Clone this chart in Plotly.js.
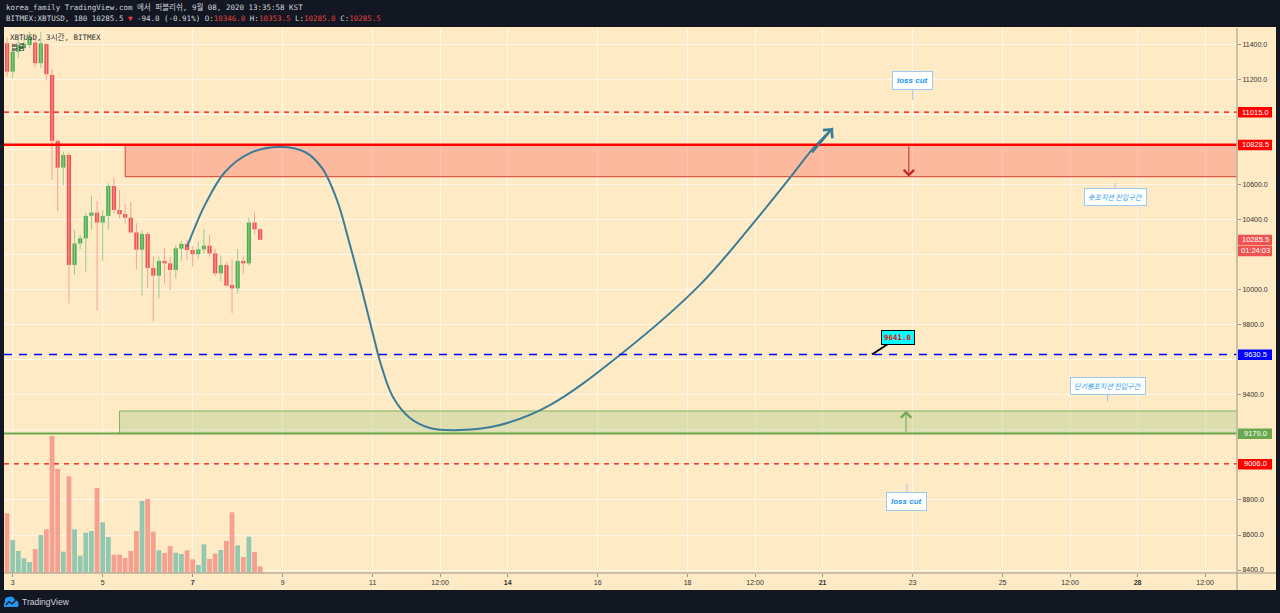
<!DOCTYPE html>
<html><head><meta charset="utf-8">
<script src="https://cdn.plot.ly/plotly-3.0.1.min.js"></script>
<style>
html,body{margin:0;padding:0;background:#131722;width:1280px;height:613px;overflow:hidden;}
#bg{position:absolute;left:4px;top:27px;width:1272px;height:563px;background:#FFEAC6;}
#chart{position:absolute;left:0;top:0;width:1280px;height:613px;}
</style></head><body>
<div id="bg"></div><div id="chart"></div>
<script>
// ---- data (3h candles, BITMEX:XBTUSD) ----
const times = ['2020-09-02 21:00',
'2020-09-03 00:00','2020-09-03 03:00','2020-09-03 06:00','2020-09-03 09:00','2020-09-03 12:00','2020-09-03 15:00','2020-09-03 18:00','2020-09-03 21:00',
'2020-09-04 00:00','2020-09-04 03:00','2020-09-04 06:00','2020-09-04 09:00','2020-09-04 12:00','2020-09-04 15:00','2020-09-04 18:00','2020-09-04 21:00',
'2020-09-05 00:00','2020-09-05 03:00','2020-09-05 06:00','2020-09-05 09:00','2020-09-05 12:00','2020-09-05 15:00','2020-09-05 18:00','2020-09-05 21:00',
'2020-09-06 00:00','2020-09-06 03:00','2020-09-06 06:00','2020-09-06 09:00','2020-09-06 12:00','2020-09-06 15:00','2020-09-06 18:00','2020-09-06 21:00',
'2020-09-07 00:00','2020-09-07 03:00','2020-09-07 06:00','2020-09-07 09:00','2020-09-07 12:00','2020-09-07 15:00','2020-09-07 18:00','2020-09-07 21:00',
'2020-09-08 00:00','2020-09-08 03:00','2020-09-08 06:00','2020-09-08 09:00','2020-09-08 12:00'];
const openP  = [11408,11246,11360,11380,11398,11412,11294,11404,11227,10850,10698,10770,10142,10265,10294,10423,10441,10384,10422,10593,10456,10433,10412,10328,10229,10319,10125,10081,10165,10151,10113,10235,10262,10227,10203,10231,10252,10208,10094,10142,10028,10008,10165,10151,10384,10346];
const highP  = [11440,11398,11427,11446,11474,11446,11474,11408,11259,10856,10789,10783,10342,10313,10441,10538,10507,10456,10608,10641,10570,10490,10500,10380,10338,10330,10189,10189,10237,10189,10256,10279,10285,10250,10273,10347,10313,10233,10195,10161,10174,10233,10189,10414,10441,10353.5];
const lowP   = [11217,11208,11322,11368,11379,11271,11265,11195,10627,10450,10599,9923,10085,10233,10104,10342,9881,10166,10347,10437,10408,10380,10323,10117,9967,10008,9818,9951,10037,9999,10066,10166,10170,10132,10174,10205,10189,10079,10047,10018,9866,9980,10090,10138,10319,10285];
const closeP = [11246,11360,11398,11404,11446,11294,11408,11231,10850,10698,10770,10142,10265,10294,10422,10441,10384,10422,10593,10456,10431,10412,10328,10229,10319,10125,10081,10165,10151,10113,10237,10262,10227,10203,10231,10252,10208,10094,10142,10024,10008,10165,10151,10384,10346,10285.5];
const volumeM = [17.9,9.9,6.6,4.4,3.3,7.2,11.4,13.1,41.1,31.3,6.4,29.0,13.1,5.2,12.1,12.6,25.5,15.2,10.8,5.5,5.5,4.5,6.6,12.6,21.6,22.2,12.4,6.8,6.0,8.1,6.1,5.7,6.8,4.1,2.4,8.6,4.2,5.8,6.9,9.6,18.2,8.3,4.8,10.9,6.3,2.0];

const priceTicks = [8400,8600,8800,9000,9200,9400,9600,9800,10000,10200,10400,10600,10800,11000,11200,11400];
// labels hidden behind the coloured price boxes are left blank
const priceTickText = ['8400.0','8600.0','8800.0','','','9400.0','','9800.0','10000.0','','10400.0','10600.0','','','11200.0','11400.0'];
const dateTicks = ['2020-09-03','2020-09-05','2020-09-07','2020-09-09','2020-09-11','2020-09-12 12:00','2020-09-14','2020-09-16','2020-09-18','2020-09-19 12:00','2020-09-21','2020-09-23','2020-09-25','2020-09-26 12:00','2020-09-28','2020-09-29 12:00'];
const dateTickText = ['3','5','<b>7</b>','9','11','12:00','<b>14</b>','16','18','12:00','<b>21</b>','23','25','12:00','<b>28</b>','12:00'];

// drawings
const lossCutHigh = 11015, shortLevel = 10828.5, shortZoneLow = 10646, lastPrice = 10285.5;
const midLevel = 9630.5, longZoneHigh = 9308, longLevel = 9179, lossCutLow = 9006;
const curveTimes = ['2020-09-06 21:00','2020-09-07 06:33','2020-09-07 17:14','2020-09-08 06:33','2020-09-08 22:34','2020-09-09 11:54','2020-09-09 20:57','2020-09-10 04:58','2020-09-10 11:54','2020-09-10 18:17','2020-09-10 23:37','2020-09-11 04:58','2020-09-11 10:49','2020-09-11 19:54','2020-09-12 06:33','2020-09-12 22:34','2020-09-13 19:54','2020-09-14 22:34','2020-09-16 11:54','2020-09-18 06:33','2020-09-19 14:34','2020-09-20 06:33','2020-09-20 18:17','2020-09-21 05:30'];
const curvePrices = [10245,10485,10673,10781,10816,10787,10696,10513,10256,9999,9771,9554,9388,9268,9211,9199,9228,9342,9628,10028,10427,10639,10799,10924];

// ---- build traces ----
const GREEN='#4CAF50', RED='#EF5350';
const isUp = i => closeP[i] >= openP[i];
const wickUp={x:[],y:[]}, wickDn={x:[],y:[]};
const bodyUp={x:[],base:[],y:[]}, bodyDn={x:[],base:[],y:[]};
const volColors=[];
times.forEach((t,i)=>{
  const w = isUp(i)?wickUp:wickDn, b = isUp(i)?bodyUp:bodyDn;
  w.x.push(t,t,null); w.y.push(lowP[i],highP[i],null);
  b.x.push(t); b.base.push(Math.min(openP[i],closeP[i])); b.y.push(Math.max(Math.abs(closeP[i]-openP[i]),4));
  volColors.push(isUp(i)?'#92C8AF':'#F6A190');
});
const H3 = 3*3600*1000;
const traces = [
 {type:'bar',x:times,y:volumeM,yaxis:'y2',width:H3*0.85,marker:{color:volColors,line:{width:0}},hoverinfo:'skip'},
 {type:'scatter',mode:'lines',x:wickUp.x,y:wickUp.y,line:{color:'#97CB91',width:1},hoverinfo:'skip'},
 {type:'scatter',mode:'lines',x:wickDn.x,y:wickDn.y,line:{color:'#F2A39A',width:1},hoverinfo:'skip'},
 {type:'bar',x:bodyUp.x,base:bodyUp.base,y:bodyUp.y,width:H3*0.75,marker:{color:GREEN,line:{width:0}},hoverinfo:'skip'},
 {type:'bar',x:bodyDn.x,base:bodyDn.base,y:bodyDn.y,width:H3*0.75,marker:{color:RED,line:{width:0}},hoverinfo:'skip'},
 {type:'scatter',mode:'lines',x:curveTimes,y:curvePrices,line:{color:'#3B7D97',width:2,shape:'spline',smoothing:1},hoverinfo:'skip'}
];

// ---- helpers ----
const PX = px => (px-4)/1233, PY = py => (573-py)/545;
const hline = (y,color,width,dash)=>({type:'line',xref:'paper',x0:0,x1:1,yref:'y',y0:y,y1:y,line:{color:color,width:width,dash:dash||'solid'},layer:'above'});
const shapes = [
 {type:'rect',xref:'x',x0:'2020-09-05 12:00',x1:'2020-10-10',yref:'y',y0:shortZoneLow,y1:shortLevel,fillcolor:'rgba(250,80,70,0.32)',line:{color:'rgba(215,50,35,0.9)',width:1},layer:'between'},
 {type:'rect',xref:'x',x0:'2020-09-05 09:00',x1:'2020-10-10',yref:'y',y0:longLevel,y1:longZoneHigh,fillcolor:'rgba(90,170,80,0.2)',line:{color:'#7DB35E',width:1},layer:'between'},
 hline(lossCutHigh,'#FF0000',1.2,'5px,5px'),
 hline(shortLevel,'#FF0000',2.5),
 hline(midLevel,'#0000FF',1.5,'8px,7px'),
 hline(longLevel,'#6AA84F',2),
 hline(lossCutLow,'#FF0000',1.2,'5px,5px'),
 // frame lines
 {type:'line',xref:'paper',yref:'paper',x0:1,x1:1,y0:1,y1:PY(590),line:{color:'#BDB197',width:1.5},layer:'above'},
 {type:'line',xref:'paper',yref:'paper',x0:0,x1:PX(1276),y0:0,y1:0,line:{color:'#BDB197',width:1.5},layer:'above'},
 // TradingView logo
 {type:'path',xref:'paper',yref:'paper',path:`M${PX(4)},${PY(607)} L${PX(18)},${PY(607)} Q${PX(20)},${PY(601)} ${PX(15)},${PY(600)} Q${PX(13)},${PY(595)} ${PX(9)},${PY(597)} Q${PX(4)},${PY(597)} ${PX(5)},${PY(602)} Q${PX(3)},${PY(604)} ${PX(4)},${PY(607)} Z`,fillcolor:'#2196F3',line:{width:0},layer:'above'},
 {type:'path',xref:'paper',yref:'paper',path:`M${PX(6)},${PY(605)} L${PX(9)},${PY(601.5)} L${PX(12)},${PY(604)} L${PX(16)},${PY(600)}`,line:{color:'#131722',width:1.2},layer:'above'}
];
// axis price-label boxes
const boxes = [
 [lossCutHigh,'11015.0','#FF0000',0],
 [shortLevel,'10828.5','#FF0000',0],
 [lastPrice,'10285.5','#EF5350',0],
 [lastPrice,'01:24:03','#EF5350',-11],
 [midLevel,'9630.5','#0000FF',0],
 [longLevel,'9179.0','#6AA84F',0],
 [lossCutLow,'9006.0','#FF0000',0]
];
const annotations = [];
boxes.forEach(b=>{
  shapes.push({type:'rect',xref:'paper',x0:PX(1238),x1:PX(1272),yref:'y',ysizemode:'pixel',yanchor:b[0],y0:b[3]-5.5,y1:b[3]+5,fillcolor:b[2],line:{width:0},layer:'above'});
  annotations.push({xref:'paper',x:PX(1255),xanchor:'center',yref:'y',y:b[0],yanchor:'middle',yshift:b[3],text:b[1],showarrow:false,font:{family:'Liberation Sans',size:7.5,color:'#FFFFFF'}});
});
const mono = 'DejaVu Sans Mono, Noto Sans CJK KR';
const red2 = '#E0413F';
annotations.push(
 {xref:'paper',yref:'paper',x:0,y:1,xanchor:'left',yanchor:'middle',yshift:20.7,showarrow:false,text:'korea_family TradingView.com 에서 퍼블리쉬, 9월 08, 2020 13:35:58 KST',font:{family:mono,size:7.5,color:'#D1D4DC'}},
 {xref:'paper',yref:'paper',x:0,y:1,xanchor:'left',yanchor:'middle',yshift:9.7,showarrow:false,
  text:`BITMEX:XBTUSD, 180 10285.5 <span style="color:#FF3B3B">▼</span> -94.0 (-0.91%) O:<span style="color:${red2}">10346.0</span> H:<span style="color:${red2}">10353.5</span> L:<span style="color:${red2}">10285.0</span> C:<span style="color:${red2}">10285.5</span>`,
  font:{family:mono,size:7.5,color:'#D1D4DC'}},
 {xref:'paper',yref:'paper',x:0,y:1,xanchor:'left',yanchor:'middle',xshift:4,yshift:-9,showarrow:false,text:'XBTUSD, 3시간, BITMEX',font:{family:mono,size:7.5,color:'#333333'}},
 {xref:'paper',yref:'paper',x:0,y:1,xanchor:'left',yanchor:'middle',xshift:5,yshift:-19.5,showarrow:false,text:'볼륨',font:{family:mono,size:7.5,color:'#333333'}},
 {xref:'paper',yref:'paper',x:PX(20),y:PY(602),xanchor:'left',yanchor:'middle',showarrow:false,text:'TradingView',font:{family:'Liberation Sans',size:8.5,color:'#D1D4DC'}},
 // callouts
 {x:'2020-09-23 00:00',y:11084,ax:0,ay:-19,text:'<b><i>loss cut</i></b>',showarrow:true,arrowhead:0,arrowcolor:'#9CCBF0',arrowwidth:1,bgcolor:'#FFFFFF',bordercolor:'#9CCBF0',borderwidth:1,borderpad:4,font:{family:'Liberation Sans',size:8,color:'#2196F3'}},
 {x:'2020-09-22 21:00',y:8891,ax:0,ay:17,text:'<b><i>loss cut</i></b>',showarrow:true,arrowhead:0,arrowcolor:'#9CCBF0',arrowwidth:1,bgcolor:'#FFFFFF',bordercolor:'#9CCBF0',borderwidth:1,borderpad:4,font:{family:'Liberation Sans',size:8,color:'#2196F3'}},
 {x:'2020-09-27 12:00',y:10610,ax:0,ay:14,text:'<i>숏포지션 진입구간</i>',showarrow:true,arrowhead:0,arrowcolor:'#9CCBF0',arrowwidth:1,bgcolor:'#FFFFFF',bordercolor:'#9CCBF0',borderwidth:1,borderpad:3,font:{family:'Noto Sans CJK KR',size:7,color:'#2196F3'}},
 {x:'2020-09-27 08:00',y:9359,ax:0,ay:-16,text:'<i>단기롱포지션 진입구간</i>',showarrow:true,arrowhead:0,arrowcolor:'#9CCBF0',arrowwidth:1,bgcolor:'#FFFFFF',bordercolor:'#9CCBF0',borderwidth:1,borderpad:3,font:{family:'Noto Sans CJK KR',size:7,color:'#2196F3'}},
 {x:'2020-09-22 02:18',y:midLevel,ax:26,ay:-17,text:'<b>9641.0</b>',showarrow:true,arrowhead:0,arrowcolor:'#000000',arrowwidth:2,bgcolor:'#00FFFF',bordercolor:'#000000',borderwidth:1,borderpad:2,font:{family:'DejaVu Sans Mono',size:7.5,color:'#FF0000'}},
 // arrows
 {x:'2020-09-21 05:30',y:10924,ax:-22,ay:26,text:'',showarrow:true,arrowhead:4,arrowsize:1.2,arrowwidth:2,arrowcolor:'#3B7D97',standoff:0},
 {x:'2020-09-22 22:00',y:shortZoneLow,ax:0,ay:-32,text:'',showarrow:true,arrowhead:4,arrowsize:2,arrowwidth:1,arrowcolor:'#C62828',standoff:0},
 {x:'2020-09-22 20:30',y:longZoneHigh,ax:0,ay:22.6,text:'',showarrow:true,arrowhead:4,arrowsize:2,arrowwidth:1,arrowcolor:'#6AA84F',standoff:0}
);

const axFont = {family:'Liberation Sans',size:7,color:'#333333'};
const layout = {
  width:1280,height:613,margin:{l:4,r:43,t:28,b:40},
  paper_bgcolor:'rgba(0,0,0,0)',plot_bgcolor:'rgba(0,0,0,0)',
  showlegend:false,barmode:'overlay',
  xaxis:{type:'date',range:['2020-09-02 19:22','2020-09-30 05:02'],tickvals:dateTicks,ticktext:dateTickText,
    showgrid:true,gridcolor:'#FFF7EA',gridwidth:1,ticks:'outside',ticklen:3,tickcolor:'#9E9784',tickfont:axFont,zeroline:false,showline:false,fixedrange:true},
  yaxis:{side:'right',range:[8383,11495],tickvals:priceTicks,ticktext:priceTickText,showgrid:true,gridcolor:'#FFF7EA',gridwidth:1,
    ticks:'outside',ticklen:3,tickcolor:'#9E9784',tickfont:axFont,zeroline:false,showline:false,fixedrange:true},
  yaxis2:{overlaying:'y',range:[0,163.5],visible:false,fixedrange:true},
  shapes:shapes,annotations:annotations
};
Plotly.newPlot('chart',traces,layout,{staticPlot:true,displayModeBar:false});
</script></body></html>
